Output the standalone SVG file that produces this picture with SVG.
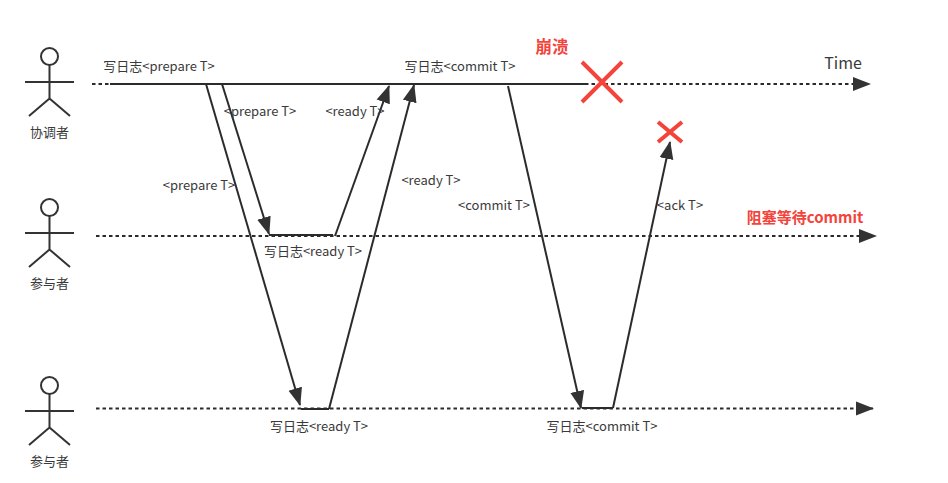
<svg xmlns="http://www.w3.org/2000/svg" width="948" height="483" viewBox="0 0 948 483">
<style>
text{font-family:"Noto Sans CJK SC","Noto Sans",sans-serif;font-size:13px;fill:#3a3a3a;text-anchor:middle}
.red{fill:#f4433a;font-weight:700;font-size:15px}
.actor{fill:none;stroke:#333;stroke-width:2}
.line{fill:none;stroke:#2b2b2b;stroke-width:2}
.dash{stroke-dasharray:3.500 3}
.x{fill:none;stroke:#f4433a;stroke-width:4}
</style>
<defs>
<marker id="arrow" markerUnits="userSpaceOnUse" markerWidth="20" markerHeight="18" refX="17" refY="8" orient="auto">
<path d="M0 1L18 8L0 15Z" fill="#333"/>
</marker>
<g id="stick">
<circle cx="49.500" cy="0" r="8.500" class="actor"/>
<path d="M49.500 8.500V42M25 25.500H74M49.500 42L29 59.500M49.500 42L70 59.500" class="actor"/>
</g>
</defs>
<rect width="948" height="483" fill="#fff"/>
<g id="connectors">
<path class="line dash" d="M92 84H110"/>
<path class="line" d="M110 84H585"/>
<path class="line dash" d="M585 84H870" marker-end="url(#arrow)"/>
<path class="line dash" d="M96 236H876" marker-end="url(#arrow)"/>
<path class="line dash" d="M96 408.500H873" marker-end="url(#arrow)"/>
<path class="line" d="M222 84L269 234" marker-end="url(#arrow)"/>
<path class="line" d="M206 84L300 405" marker-end="url(#arrow)"/>
<path class="line" d="M269 235H333"/>
<path class="line" d="M301 409H329"/>
<path class="line" d="M335 236L389 86" marker-end="url(#arrow)"/>
<path class="line" d="M329 409L414 85" marker-end="url(#arrow)"/>
<path class="line" d="M508 86L581 408" marker-end="url(#arrow)"/>
<path class="line" d="M582 408H613"/>
<path class="line" d="M613 408L670 142" marker-end="url(#arrow)"/>
</g>
<g id="actor-coordinator"><use href="#stick" y="56.500"/><text x="49.500" y="137">协调者</text></g>
<g id="actor-participant-1"><use href="#stick" y="207.500"/><text x="49.500" y="288">参与者</text></g>
<g id="actor-participant-2"><use href="#stick" y="385.500"/><text x="49.500" y="466">参与者</text></g>
<g id="crash-main"><path class="x" d="M582 62L622 102M622 62L582 102"/></g>
<g id="crash-ack"><path class="x" d="M658 122L682 142M682 122L658 142"/></g>
<g id="labels">
<text x="159" y="71">写日志&lt;prepare T&gt;</text>
<text x="460" y="71">写日志&lt;commit T&gt;</text>
<text x="260" y="116">&lt;prepare T&gt;</text>
<text x="355" y="116">&lt;ready T&gt;</text>
<text x="199" y="190">&lt;prepare T&gt;</text>
<text x="431" y="185">&lt;ready T&gt;</text>
<text x="494" y="210">&lt;commit T&gt;</text>
<text x="680" y="210">&lt;ack T&gt;</text>
<text x="313" y="256">写日志&lt;ready T&gt;</text>
<text x="319" y="431">写日志&lt;ready T&gt;</text>
<text x="602" y="431">写日志&lt;commit T&gt;</text>
<text x="843" y="69" style="font-size:16px">Time</text>
<text class="red" x="552" y="53" style="font-size:16.500px">崩溃</text>
<text class="red" x="805" y="223">阻塞等待commit</text>
</g>
</svg>
